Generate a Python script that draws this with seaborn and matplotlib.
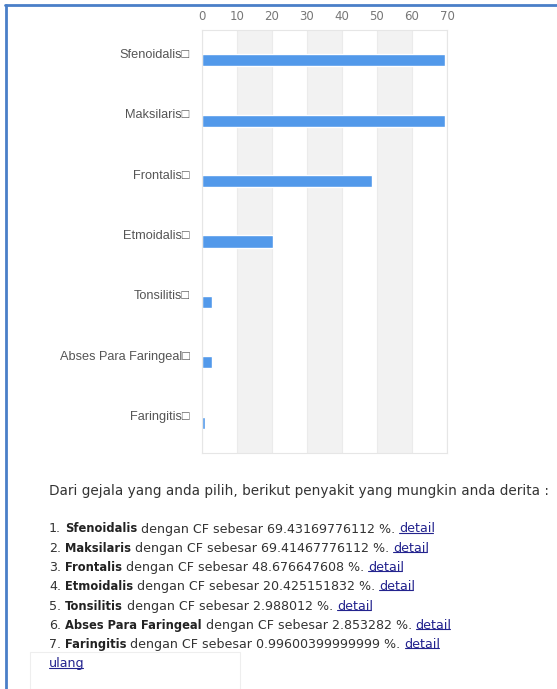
import numpy as np
import pandas as pd
import matplotlib
matplotlib.use("Agg")
import matplotlib.pyplot as plt
import matplotlib.transforms as mtransforms
from matplotlib.lines import Line2D
from matplotlib.patches import Rectangle
import seaborn as sns

# data
penyakit = ["Sfenoidalis", "Maksilaris", "Frontalis", "Etmoidalis",
            "Tonsilitis", "Abses Para Faringeal", "Faringitis"]
cf = [69.43169776112, 69.41467776112, 48.676647608, 20.425151832,
      2.988012, 2.853282, 0.99600399999999]
xticks = [0, 10, 20, 30, 40, 50, 60, 70]
judul = "Dari gejala yang anda pilih, berikut penyakit yang mungkin anda derita :"

W, H = 557, 689
sns.set_theme(style="white")
plt.rcParams['font.family'] = ['DejaVu Sans']

fig = plt.figure(figsize=(W / 100, H / 100), dpi=100)
fig.patch.set_facecolor("white")

def fx(px):
    return px / W

def fy(py):
    return 1 - py / H

ax = fig.add_axes([fx(202), fy(453), fx(447) - fx(202), fy(30) - fy(453)])

df = pd.DataFrame({"penyakit": [p + "\u25a1" for p in penyakit], "cf": cf})

# alternating bands
for a in xticks[1:-1:2]:
    ax.axvspan(a, a + 10, color="#f2f2f2", zorder=0, lw=0)
for t in xticks:
    ax.axvline(t, color="#ebebeb", lw=0.8, zorder=0.5)

sns.barplot(data=df, x="cf", y="penyakit", orient="h", color="#5299ea",
            width=0.2, saturation=1, ax=ax, zorder=2)

ax.set_xlim(0, 70)
ax.set_ylim(6.5, -0.5)
ax.set_xticks(xticks)
ax.xaxis.tick_top()
ax.tick_params(axis="x", length=0, pad=5, labelsize=8.5, labelcolor="#777777")
ax.tick_params(axis="y", length=0, pad=9, labelsize=9.2, labelcolor="#555555")
ax.set_xlabel("")
ax.set_ylabel("")
for s in ax.spines.values():
    s.set_color("#e6e6e6")
    s.set_linewidth(0.8)

off = mtransforms.ScaledTranslation(0, 5 / 72, fig.dpi_scale_trans)
for lab in ax.get_yticklabels():
    lab.set_family(["Liberation Sans", "DejaVu Sans"])
    lab.set_transform(lab.get_transform() + off)

# page frame
fig.add_artist(Line2D([fx(6), fx(6)], [fy(5), 0], color="#4a7fc8", lw=2))
fig.add_artist(Line2D([fx(5), 1], [fy(5), fy(5)], color="#4a7fc8", lw=2))
fig.add_artist(Rectangle((fx(30), 0), fx(240) - fx(30), fy(652), fill=False,
                         ec="#eeeeee", lw=0.8))

# text block below
renderer = fig.canvas.get_renderer()
txt_c = "#333333"
link_c = "#23238e"

def width(s, fs):
    t = fig.text(0, 0, s, fontsize=fs)
    w = t.get_window_extent(renderer).width
    t.remove()
    return w

def put_line(y_px, chunks, fs):
    space = width("x x", fs) - width("xx", fs)
    x = 49
    for s, kind in chunks:
        kw = dict(fontsize=fs, color=txt_c, va="center", ha="left")
        if kind == "b":
            kw.update(weight="bold", fontsize=fs - 0.8, color="#222222")
        if kind == "l":
            kw.update(color=link_c)
        t = fig.text(fx(x), fy(y_px), s, **kw)
        bb = t.get_window_extent(renderer)
        if kind == "l":
            yu = (bb.y0 + 3) / H
            fig.add_artist(Line2D([fx(bb.x0), fx(bb.x1 - 2)], [yu, yu],
                                  color=link_c, lw=0.8))
        x = bb.x1 + space

put_line(491, [(judul, "n")], 9.8)
for i, (p, v) in enumerate(zip(penyakit, cf)):
    put_line(529 + i * 19.3, [(f"{i + 1}.", "n"), (p, "b"),
                              (f"dengan CF sebesar {v} %.", "n"),
                              ("detail", "l")], 9.1)
put_line(664, [("ulang", "l")], 9.1)

fig.savefig("out.png", dpi=100)
